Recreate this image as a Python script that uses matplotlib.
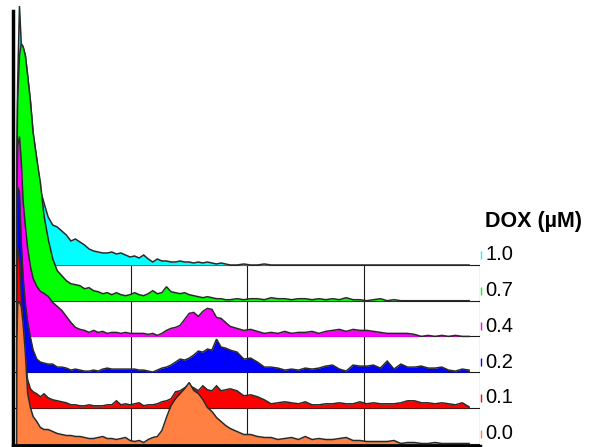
import matplotlib
matplotlib.use("Agg")
import matplotlib.pyplot as plt
import numpy as np

plt.rcParams['font.family'] = ['Liberation Sans', 'DejaVu Sans']

# channel positions (shared by all histograms)
channels = [6, 8, 12, 16, 20, 25, 30, 36, 42, 50, 58, 66, 75,
            85, 95, 105, 115, 125, 135, 145, 155, 165, 175, 185, 195, 205, 215, 225,
            235, 245, 255, 265, 275, 285, 295, 305, 315, 325, 335, 345, 355, 365, 375,
            385, 395, 405, 415, 425, 435, 445, 455, 465, 475,
            490, 505, 520, 535, 550, 565, 580, 595, 610, 625, 640, 655, 670, 685, 700,
            715, 730, 745, 760, 775, 790, 805, 820, 835, 850, 865, 880, 895, 910, 925,
            940, 955, 970, 985, 1000]

dox_labels = ['1.0', '0.7', '0.4', '0.2', '0.1', '0.0']
colors = ['#00FFFF', '#00FF00', '#FF00FF', '#0000FF', '#FF0000', '#FF8040']

counts_10 = [100, 180, 259, 221, 218, 209, 189, 164, 132, 106,
             75, 62, 48, 40, 38, 34, 30, 24, 26, 23,
             20, 16, 14, 13, 12, 12, 13, 11, 12, 10, 8,
             9, 7, 10, 6, 3, 6, 4, 4, 3,
             3, 4, 3, 3, 2, 3, 2, 3, 2, 1, 2, 1, 0,
             0, 1, 0, 0, 1, 0, 0, 0, 0, 0, 0, 0,
             0, 0, 0, 0, 0, 0, 0, 0, 0, 0, 0, 0,
             0, 0, 0, 0, 0, 0, 0, 0, 0, 0, 0]

counts_07 = [120, 200, 245, 257, 254, 245, 225, 200, 168, 142,
             118, 85, 62, 42, 30, 25, 20, 17, 16, 15,
             12, 13, 10, 9, 7, 8, 6, 8, 6, 5, 6,
             8, 6, 5, 7, 10, 7, 8, 14, 9,
             8, 7, 8, 6, 5, 4, 3, 4, 3, 2, 2, 1, 1,
             2, 1, 2, 2, 1, 3, 2, 2, 1, 2, 2, 1,
             2, 1, 2, 1, 3, 1, 1, 0, 1, 2, 0, 1,
             0, 0, 0, 0, 0, 0, 0, 0, 0, 0, 0]

counts_04 = [120, 190, 200, 175, 135, 110, 88, 70, 58, 50,
             45, 43, 40, 34, 30, 26, 20, 14, 9, 7,
             6, 4, 6, 4, 5, 3, 4, 4, 3, 4, 3,
             3, 3, 3, 2, 3, 1, 3, 6, 8,
             9, 11, 17, 23, 24, 20, 25, 28, 27, 19, 18, 14, 10,
             8, 6, 7, 5, 3, 4, 3, 5, 3, 4, 4, 5,
             3, 5, 6, 7, 5, 7, 6, 6, 5, 4, 3, 3,
             3, 3, 2, 0, 1, 0, 1, 0, 1, 0, 0]

counts_02 = [110, 185, 180, 130, 95, 68, 50, 35, 22, 13,
             10, 9, 8, 8, 5, 5, 4, 2, 3, 2,
             1, 1, 2, 1, 3, 4, 3, 3, 3, 3, 3,
             3, 2, 2, 1, 0, 2, 4, 5, 7,
             10, 13, 12, 14, 17, 21, 20, 23, 22, 33, 25, 24, 22,
             20, 13, 14, 10, 5, 5, 4, 2, 3, 2, 4, 3,
             4, 6, 7, 3, 1, 7, 6, 6, 7, 4, 11, 3,
             8, 5, 5, 6, 4, 4, 5, 2, 1, 3, 2]

counts_01 = [100, 160, 150, 110, 70, 45, 28, 19, 16, 14,
             11, 14, 10, 8, 7, 6, 5, 3, 3, 2,
             2, 3, 2, 2, 2, 3, 3, 7, 3, 4, 3,
             4, 5, 2, 3, 3, 4, 6, 7, 9,
             16, 17, 20, 22, 20, 17, 22, 18, 17, 22, 17, 18, 19,
             17, 12, 13, 11, 8, 4, 5, 6, 5, 4, 6, 3,
             3, 4, 4, 5, 4, 4, 6, 4, 5, 4, 4, 4,
             5, 7, 7, 5, 5, 4, 5, 4, 3, 5, 1]

counts_00 = [100, 140, 142, 137, 120, 90, 50, 36, 27, 22,
             16, 14, 14, 12, 10, 9, 8, 8, 7, 7,
             6, 5, 5, 6, 7, 5, 5, 4, 5, 6, 3,
             2, 3, 1, 4, 6, 7, 13, 26, 38,
             45, 50, 55, 61, 53, 50, 44, 36, 32, 26, 22, 18, 15,
             12, 9, 9, 7, 6, 6, 4, 5, 6, 4, 7, 4,
             5, 4, 4, 5, 6, 3, 3, 2, 2, 2, 2, 3,
             0, 1, 1, 0, 0, 1, 0, 0, 0, 0, 0]

series = [counts_10, counts_07, counts_04, counts_02, counts_01, counts_00]

lane_offset = 35.7
xmax = 1024
grid_ch = [256, 512, 768]

fig = plt.figure(figsize=(5.93, 4.47), dpi=100)
W, H = 593.0, 447.0
ax = fig.add_axes([12.5 / W, (H - 445.5) / H, (480 - 12.5) / W, (445.5 - 11) / H])
ax.set_xlim(-3.3, xmax)
ax.set_ylim(-2, 432.5)

n = len(series)
x = np.array(channels, dtype=float)
top_base = (n - 1) * lane_offset

# lane boxes
for i in range(n):
    base = (n - 1 - i) * lane_offset
    ax.hlines(base, 0, xmax, color='#1a1a1a', lw=0.8, zorder=1)
ax.vlines(grid_ch, 0, top_base, color='#1a1a1a', lw=0.8, zorder=1)
ax.vlines(xmax, 0, top_base, color='#1a1a1a', lw=0.8, zorder=1)
ax.vlines(4, 0, top_base, color='#9a9a9a', lw=0.7, zorder=1)

# histograms: top lane first, lower lanes drawn over
for i, (vals, col) in enumerate(zip(series, colors)):
    base = (n - 1 - i) * lane_offset
    y = np.array(vals, dtype=float)
    z = 2 + i
    ax.fill_between(x, base, base + y, color=col, lw=0, zorder=z, clip_on=False)
    xo = np.concatenate([[x[0]], x, [x[-1]]])
    yo = np.concatenate([[base], base + y, [base]])
    ax.plot(xo, yo, color='#2a2a2a', lw=1.1, zorder=z + 0.5, clip_on=False,
            solid_joinstyle='miter')

# legend ticks and labels
for i, (lab, col) in enumerate(zip(dox_labels, colors)):
    base = (n - 1 - i) * lane_offset
    ax.vlines(1026, base + 6, base + 14, color=col, lw=1.0, clip_on=False, zorder=10)
    ax.text(1036, base + 10, lab, fontsize=14.5, va='center', ha='left',
            color='black', clip_on=False)
ax.text(1036, 221.5, 'DOX (µM)', fontsize=15.5, fontweight='bold', va='center',
        ha='left', color='black', clip_on=False)

# spines
for s in ['top', 'right']:
    ax.spines[s].set_visible(False)
ax.spines['left'].set_linewidth(2.5)
ax.spines['bottom'].set_linewidth(2.5)
ax.spines['left'].set_zorder(20)
ax.spines['bottom'].set_zorder(20)
ax.set_xticks([])
ax.set_yticks([(n - 1 - i) * lane_offset for i in range(n)])
ax.set_yticklabels([])
ax.tick_params(axis='y', direction='in', length=3, width=0.8, color='#1a1a1a')

fig.savefig('out.png', dpi=100)
